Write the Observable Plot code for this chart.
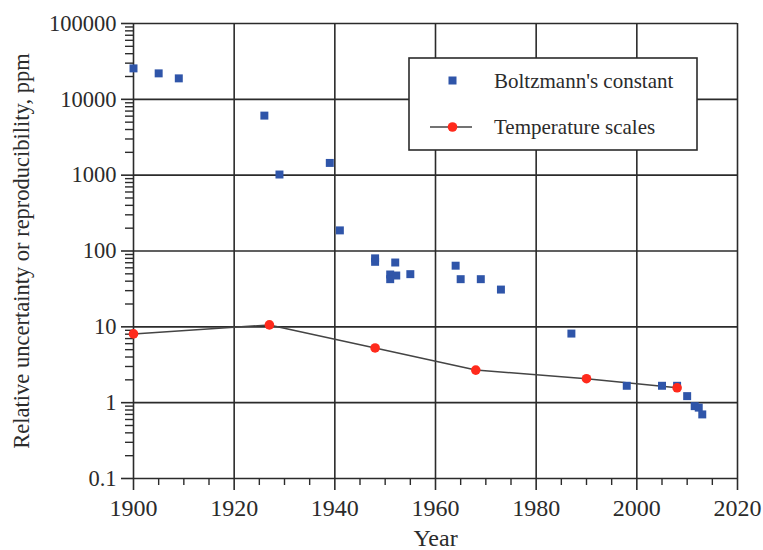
<!DOCTYPE html>
<html>
<head>
<meta charset="utf-8">
<script src="https://cdn.jsdelivr.net/npm/d3@7"></script>
<script src="https://cdn.jsdelivr.net/npm/@observablehq/plot@0.6"></script>
<style>
  body { margin: 0; background: #fff; }
  #wrap { position: relative; width: 763px; height: 550px; overflow: hidden; font-family: "Liberation Serif", "Times New Roman", serif; }
  #legend { position: absolute; left: 408px; top: 57px; }
</style>
</head>
<body>
<div id="wrap"></div>
<script>
// Boltzmann's constant determinations (year, relative uncertainty in ppm)
const boltzYears  = [1900, 1905, 1909, 1926, 1929, 1939, 1941, 1948, 1948, 1951, 1951, 1952, 1952.2, 1955, 1964, 1965, 1969, 1973, 1987, 1998, 2005, 2008, 2010, 2011.5, 2012.3, 2013];
const boltzValues = [25600, 22000, 18900, 6100, 1020, 1450, 187, 80, 72, 49, 42.5, 70.5, 47.5, 49.5, 64, 42.5, 42.5, 31, 8.15, 1.67, 1.67, 1.67, 1.22, 0.9, 0.86, 0.70];

// Temperature scales (year, reproducibility in ppm)
const tempYears  = [1900, 1927, 1948, 1968, 1990, 2008];
const tempValues = [8.07, 10.6, 5.27, 2.69, 2.07, 1.57];

// Axis ticks
const xMajor = [1900, 1920, 1940, 1960, 1980, 2000, 2020];
const xMinor = d3.range(1905, 2020, 5).filter(d => d % 20 !== 0);
const yMajor = [0.1, 1, 10, 100, 1000, 10000, 100000];
const yLabels = ["0.1", "1", "10", "100", "1000", "10000", "100000"];
const yMinor = [];
for (let e = -1; e < 5; e++) for (let m = 2; m <= 9; m++) yMinor.push(m * Math.pow(10, e));

const boltz = boltzYears.map((y, i) => ({year: y, value: boltzValues[i]}));
const temps = tempYears.map((y, i) => ({year: y, value: tempValues[i]}));

const ink = "#2b2b2b";
const blue = "#2f55a9";
const red = "#ff2a1c";

const chart = Plot.plot({
  width: 763,
  height: 550,
  marginLeft: 133,
  marginRight: 26,
  marginTop: 23,
  marginBottom: 72,
  style: {fontFamily: "Liberation Serif, serif", fontSize: "24px", color: ink, background: "#fff"},
  x: {type: "linear", domain: [1900, 2020]},
  y: {type: "log", domain: [0.1, 100000]},
  marks: [
    Plot.gridX(xMajor, {stroke: ink, strokeOpacity: 1, strokeWidth: 1.6}),
    Plot.gridY(yMajor, {stroke: ink, strokeOpacity: 1, strokeWidth: 1.6}),
    Plot.axisX({ticks: xMinor, tickSize: 7, tickFormat: () => "", stroke: ink, strokeWidth: 1.4, label: null}),
    Plot.axisX({ticks: xMajor, tickSize: 12, tickPadding: 8, tickFormat: d => String(d), stroke: ink, strokeWidth: 1.6, fill: ink, fontSize: 24,
      label: "Year", labelAnchor: "center", labelArrow: "none", labelOffset: 67}),
    Plot.axisY({ticks: yMinor, tickSize: 8, tickFormat: () => "", stroke: ink, strokeWidth: 1.4, label: null}),
    Plot.axisY({ticks: yMajor, tickSize: 12, tickPadding: 5, tickFormat: d => yLabels[yMajor.indexOf(d)], stroke: ink, strokeWidth: 1.6, fill: ink,
      label: "Relative uncertainty or reproducibility, ppm", labelAnchor: "center", labelArrow: "none", labelOffset: 120, fontSize: 22.5}),
    Plot.line(temps, {x: "year", y: "value", stroke: "#444", strokeWidth: 1.5}),
    Plot.dot(boltz, {x: "year", y: "value", symbol: "square", r: 4.5, fill: blue}),
    Plot.dot(temps, {x: "year", y: "value", r: 4.8, fill: red})
  ]
});

const wrap = document.getElementById("wrap");
wrap.appendChild(chart);

// Legend
const legend = document.createElement("div");
legend.id = "legend";
legend.innerHTML = `
<svg width="291" height="94" style="font-family: 'Liberation Serif', serif; font-size: 21px;">
  <rect x="1" y="1" width="288" height="92" fill="#fff" stroke="${ink}" stroke-width="1.6"/>
  <rect x="40.5" y="19.5" width="8" height="8" fill="${blue}"/>
  <text x="86" y="24" dy="0.35em" fill="${ink}">Boltzmann's constant</text>
  <line x1="22" x2="64" y1="70" y2="70" stroke="#444" stroke-width="1.5"/>
  <circle cx="44.5" cy="70" r="4.8" fill="${red}"/>
  <text x="86" y="70" dy="0.35em" fill="${ink}">Temperature scales</text>
</svg>`;
wrap.appendChild(legend);
</script>
</body>
</html>
